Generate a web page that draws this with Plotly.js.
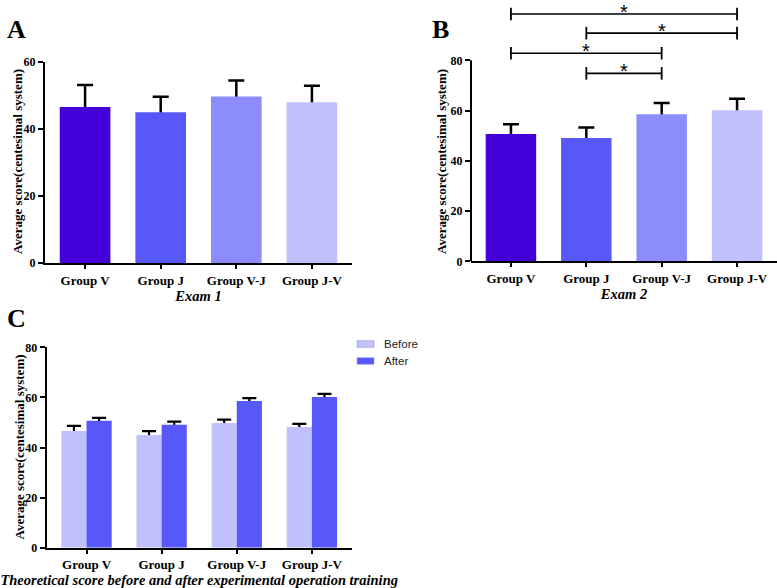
<!DOCTYPE html>
<html><head><meta charset="utf-8">
<script src="https://cdn.plot.ly/plotly-3.0.1.min.js"></script>
<style>html,body{margin:0;padding:0;background:#fff}#chart{width:777px;height:588px}</style>
</head><body><div id="chart"></div>
<script>
// ---- data ----
const categories = ['Group V', 'Group J', 'Group V-J', 'Group J-V'];
const groupColors = ['#4400D8', '#5858FA', '#8C8CFC', '#C0C0FC'];
const exam1Mean = [46.6, 45.0, 49.7, 48.0];
const exam1SD = [6.5, 4.6, 4.8, 4.9];
const exam2Mean = [50.7, 49.1, 58.5, 60.1];
const exam2SD = [3.8, 4.2, 4.5, 4.6];
const beforeMean = [46.6, 45.0, 49.8, 48.2];
const beforeErr = [2.0, 1.5, 1.3, 1.2];
const afterMean = [50.7, 49.1, 58.6, 60.2];
const afterErr = [1.1, 1.2, 1.1, 1.2];
const sigFrom = ['Group V', 'Group J', 'Group V', 'Group J'];
const sigTo = ['Group J-V', 'Group J-V', 'Group V-J', 'Group V-J'];
const sigLevel = [98.4, 90.8, 82.8, 74.8];
const sigLabel = ['*', '*', '*', '*'];
const yTicksA = [0, 20, 40, 60];
const yTicksBC = [0, 20, 40, 60, 80];
const legendNames = ['Before', 'After'];
const legendColors = ['#C0C0FC', '#5858FA'];
const yTitleText = 'Average score(centesimal system)';

// ---- helpers ----
const W = 777, H = 588;
const px = v => v / W;
const py = v => 1 - v / H;
const SERIF = 'Liberation Serif, Times New Roman, serif';
const SANS = 'Liberation Sans, Arial, sans-serif';

function errTrace(xa, ya, y, err, og, half, thick) {
  return {
    type: 'bar', x: categories, y: y, xaxis: xa, yaxis: ya, offsetgroup: og,
    marker: {color: 'rgba(0,0,0,0)', line: {width: 0}}, showlegend: false, hoverinfo: 'skip',
    error_y: {type: 'data', array: err, symmetric: true, color: '#000', thickness: thick, width: half}
  };
}
function barTrace(xa, ya, y, color, og, name) {
  return {
    type: 'bar', x: categories, y: y, xaxis: xa, yaxis: ya, offsetgroup: og, name: name,
    marker: {color: color, line: {width: 0}}, showlegend: false
  };
}

const traces = [
  errTrace('x', 'y', exam1Mean, exam1SD, 'a', 8, 2.5),
  barTrace('x', 'y', exam1Mean, groupColors, 'a', 'Exam 1'),
  errTrace('x2', 'y2', exam2Mean, exam2SD, 'a', 8, 2.5),
  barTrace('x2', 'y2', exam2Mean, groupColors, 'a', 'Exam 2'),
  errTrace('x3', 'y3', beforeMean, beforeErr, 'b', 7, 2.2),
  errTrace('x3', 'y3', afterMean, afterErr, 'f', 7, 2.2),
  barTrace('x3', 'y3', beforeMean, legendColors[0], 'b', legendNames[0]),
  barTrace('x3', 'y3', afterMean, legendColors[1], 'f', legendNames[1])
];

// significance brackets (panel B)
for (let i = 0; i < sigFrom.length; i++) {
  traces.push({
    type: 'scatter', mode: 'lines+markers', xaxis: 'x2', yaxis: 'y2',
    x: [sigFrom[i], sigTo[i]], y: [sigLevel[i], sigLevel[i]],
    line: {color: '#000', width: 1.6},
    marker: {symbol: 'line-ns', size: 9, line: {color: '#000', width: 1.8}},
    showlegend: false, hoverinfo: 'skip', cliponaxis: false
  });
}

const tickFont = {family: SERIF, size: 13, color: '#000', weight: 'bold'};
const yTickFont = {family: SERIF, size: 12, color: '#000', weight: 'bold'};
const xTitleFont = {family: SERIF, size: 14.5, color: '#000', weight: 'bold', style: 'italic'};

function xAx(d0, d1, anchor, title) {
  return {
    domain: [px(d0), px(d1)], anchor: anchor, type: 'category', range: [-0.53, 3.53],
    showline: true, linewidth: 2, linecolor: '#000', ticks: 'outside', ticklen: 4, tickwidth: 2, tickcolor: '#000',
    showgrid: false, zeroline: false, tickfont: tickFont, fixedrange: true,
    title: {text: title, font: xTitleFont, standoff: 0}
  };
}
function yAx(top, bottom, anchor, range, tickvals, showline) {
  return {
    domain: [py(bottom), py(top)], anchor: anchor, range: range, tickvals: tickvals,
    showline: showline, linewidth: 2, linecolor: '#000', ticks: 'outside', ticklen: 5, tickwidth: 2, tickcolor: '#000',
    showgrid: false, zeroline: false, tickfont: yTickFont, fixedrange: true
  };
}

const letterFont = {family: SERIF, size: 26, color: '#000', weight: 'bold'};
const annotations = [
  {text: 'A', x: px(16.5), y: py(29), xref: 'paper', yref: 'paper', xanchor: 'center', yanchor: 'middle', showarrow: false, font: letterFont},
  {text: 'B', x: px(440), y: py(30), xref: 'paper', yref: 'paper', xanchor: 'center', yanchor: 'middle', showarrow: false, font: letterFont},
  {text: 'C', x: px(16.5), y: py(318.5), xref: 'paper', yref: 'paper', xanchor: 'center', yanchor: 'middle', showarrow: false, font: letterFont}
];
// y-axis titles
const yTitlePos = [[18, 162], [442, 162], [19, 447.5]];
yTitlePos.forEach(p => annotations.push({
  text: yTitleText, textangle: -90, xref: 'paper', yref: 'paper', x: px(p[0]), y: py(p[1]),
  xanchor: 'center', yanchor: 'middle', showarrow: false,
  font: {family: SERIF, size: 13, color: '#000', weight: 'bold'}
}));
for (let i = 0; i < sigFrom.length; i++) {
  annotations.push({
    text: sigLabel[i], xref: 'x2', yref: 'y2',
    x: (categories.indexOf(sigFrom[i]) + categories.indexOf(sigTo[i])) / 2, y: sigLevel[i],
    xanchor: 'center', yanchor: 'middle', yshift: 2, showarrow: false, font: {family: SANS, size: 20, color: '#000'}
  });
}
const legendY = [344, 361];
const shapes = [
  {type: 'line', xref: 'x2 domain', x0: 0, x1: 0, yref: 'y2', y0: 0, y1: 80, line: {color: '#000', width: 2}}
];
for (let i = 0; i < legendNames.length; i++) {
  shapes.push({type: 'rect', xref: 'paper', yref: 'paper', x0: px(357), x1: px(374), y0: py(legendY[i] - 3.3), y1: py(legendY[i] + 3.3),
    fillcolor: legendColors[i], line: {color: '#9a9ad8', width: 0.6}});
  annotations.push({text: legendNames[i], xref: 'paper', yref: 'paper', x: px(382), y: py(legendY[i]), xanchor: 'left', yanchor: 'middle',
    showarrow: false, font: {family: SANS, size: 11.5, color: '#222'}});
}

const layout = {
  width: W, height: H, margin: {l: 0, r: 0, t: 0, b: 0}, paper_bgcolor: '#fff', plot_bgcolor: 'rgba(0,0,0,0)',
  barmode: 'group', bargap: 0.33, bargroupgap: 0, showlegend: false,
  xaxis: xAx(45, 352, 'y', 'Exam 1'),
  yaxis: yAx(62, 263, 'x', [0, 60], yTicksA, true),
  xaxis2: xAx(471, 777, 'y2', 'Exam 2'),
  yaxis2: yAx(0, 261.3, 'x2', [0, 104], yTicksBC, false),
  xaxis3: xAx(46.7, 351.7, 'y3', 'Theoretical score before and after experimental operation training'),
  yaxis3: yAx(347.3, 547.7, 'x3', [0, 80], yTicksBC, true),
  annotations: annotations, shapes: shapes
};

Plotly.newPlot('chart', traces, layout, {displayModeBar: false, staticPlot: true});
</script>
</body></html>
